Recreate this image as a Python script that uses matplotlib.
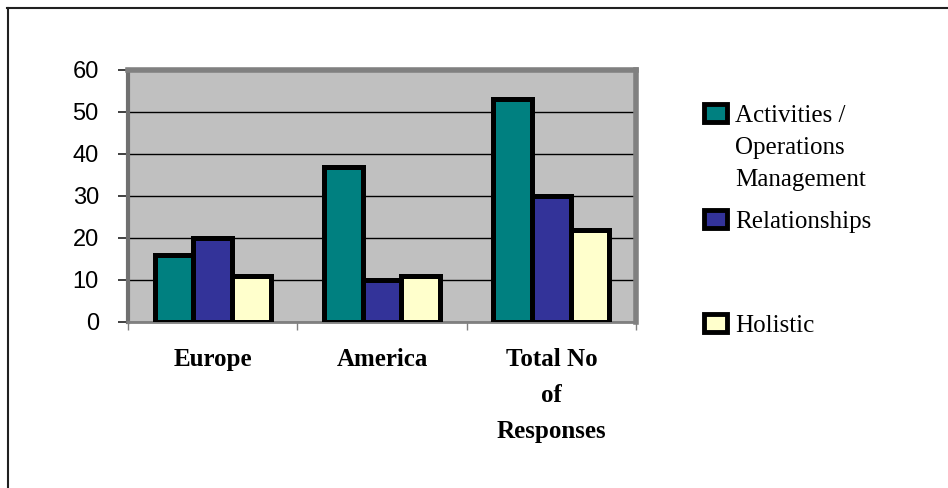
import numpy as np
import matplotlib.pyplot as plt
from matplotlib.patches import Rectangle
from matplotlib.lines import Line2D

# Datos del grafico
categorias = ['Europe', 'America', 'Total No\nof\nResponses']
series = ['Activities /\nOperations\nManagement', 'Relationships', 'Holistic']
activities = [16, 37, 53]
relationships = [20, 10, 30]
holistic = [11, 11, 22]
colores = ['#008080', '#333399', '#FFFFCC']
y_ticks = [0, 10, 20, 30, 40, 50, 60]

W, H = 948, 488
fig = plt.figure(figsize=(W / 100, H / 100), dpi=100)
fig.patch.set_facecolor('white')

# Marco exterior (solo arriba e izquierda)
fig.add_artist(Line2D([7.5 / W, 7.5 / W], [0, 1 - 8 / H], transform=fig.transFigure,
                      color='#202020', lw=1.5))
fig.add_artist(Line2D([7 / W, 1], [1 - 8 / H, 1 - 8 / H], transform=fig.transFigure,
                      color='#202020', lw=1.5))

# Ejes
ax = fig.add_axes([128 / W, 1 - 322 / H, (636 - 128) / W, (322 - 70) / H])
ax.set_facecolor('#C0C0C0')

x = np.arange(len(categorias))
ancho = 0.228
valores = [activities, relationships, holistic]
barras = []
for i, vals in enumerate(valores):
    b = ax.bar(x + (i - 1) * ancho, vals, ancho, color=colores[i],
               edgecolor='black', linewidth=3.6, zorder=3)
    barras.append(b)

ax.set_xlim(-0.5, 2.5)
ax.set_ylim(0, 60)

# Lineas de cuadricula
ax.set_yticks(y_ticks)
ax.yaxis.grid(True, color='black', lw=1, zorder=1)
ax.set_axisbelow(True)

ax.set_yticklabels([str(v) for v in y_ticks], family='Liberation Sans', fontsize=17)
ax.tick_params(axis='y', direction='out', length=7, width=1.2, color='#202020', pad=14)

ax.set_xticks(x)
ax.set_xticklabels(categorias, family='Liberation Serif', fontsize=18, fontweight='bold')
for t in ax.get_xticklabels():
    t.set_linespacing(1.72)
ax.tick_params(axis='x', which='major', length=0, pad=19)
ax.set_xticks([-0.5, 0.5, 1.5, 2.5], minor=True)
ax.tick_params(axis='x', which='minor', direction='out', length=6, width=1, color='#808080')

for s in ['top', 'right']:
    ax.spines[s].set_color('#808080')
    ax.spines[s].set_linewidth(4)
ax.spines['left'].set_color('#707070')
ax.spines['left'].set_linewidth(3)
ax.spines['bottom'].set_color('#808080')
ax.spines['bottom'].set_linewidth(2)

# Leyenda manual
ley_y = [104, 210, 314]
for i, nombre in enumerate(series):
    y0 = ley_y[i]
    fig.add_artist(Rectangle((704 / W, 1 - (y0 + 18) / H), 23 / W, 18 / H,
                             transform=fig.transFigure,
                             facecolor=barras[i].patches[0].get_facecolor(),
                             edgecolor='black', linewidth=3.5))
    fig.text(735 / W, 1 - (y0 + 1) / H, nombre, family='Liberation Serif',
             fontsize=18, va='top', ha='left', linespacing=1.6)

fig.savefig('out.png', dpi=100)
